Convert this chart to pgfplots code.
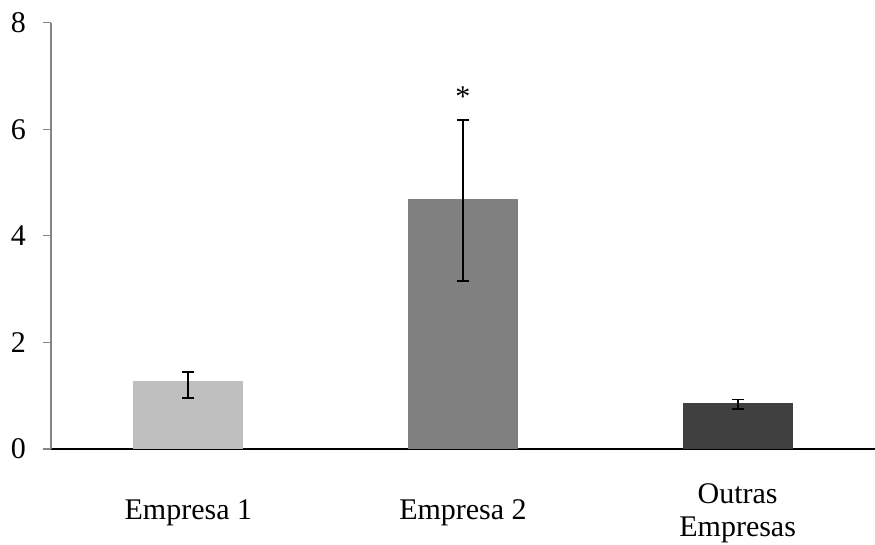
\documentclass[border=0pt]{standalone}
\usepackage{fontspec}
\setmainfont{Liberation Serif}
\usepackage{pgfplots}
\pgfplotsset{compat=1.18}
\definecolor{barA}{HTML}{BFBFBF}
\definecolor{barB}{HTML}{808080}
\definecolor{barC}{HTML}{404040}
\definecolor{axgray}{HTML}{868686}
\begin{document}
\begin{tikzpicture}
\begin{axis}[
  at={(0,0)}, anchor=south west,
  width=412pt, height=213.15pt, scale only axis,
  xmin=-0.5, xmax=2.5, ymin=0, ymax=8,
  axis x line*=bottom, axis y line*=left,
  x axis line style={black, line width=1pt, -},
  y axis line style={axgray, line width=0.6pt, -},
  ytick={0,2,4,6,8},
  xtick={0,1,2},
  xticklabels={Empresa 1, Empresa 2, {Outras\\Empresas}},
  tick align=outside,
  major tick length=4pt,
  ytick style={axgray, line width=0.6pt},
  xtick style={draw=none},
  /pgf/number format/assume math mode=true,
  ticklabel style={font=\fontsize{15}{16.5}\selectfont},
  xticklabel style={align=center, anchor=center, yshift=-28pt},
  yticklabel style={xshift=-5pt},
  ybar, bar width=55pt, bar shift=0pt,
  error bars/error bar style={black, line width=0.9pt},
  error bars/error mark options={rotate=90, mark size=3pt, line width=0.9pt, black},
  clip=false,
]
\addplot[fill=barA, draw=none, error bars/.cd, y dir=both, y explicit]
  coordinates {(0,1.27) += (0,0.18) -= (0,0.31)};
\addplot[fill=barB, draw=none, error bars/.cd, y dir=both, y explicit]
  coordinates {(1,4.69) += (0,1.49) -= (0,1.54)};
\addplot[fill=barC, draw=none, error bars/.cd, y dir=both, y explicit]
  coordinates {(2,0.87) += (0,0.06) -= (0,0.12)};
\node[font=\fontsize{15}{16.5}\selectfont] at (axis cs:1,6.62) {*};
\end{axis}
\pgfresetboundingbox
\path[use as bounding box] (-25.5pt,-48pt) rectangle (412pt,224.5pt);
\end{tikzpicture}
\end{document}
